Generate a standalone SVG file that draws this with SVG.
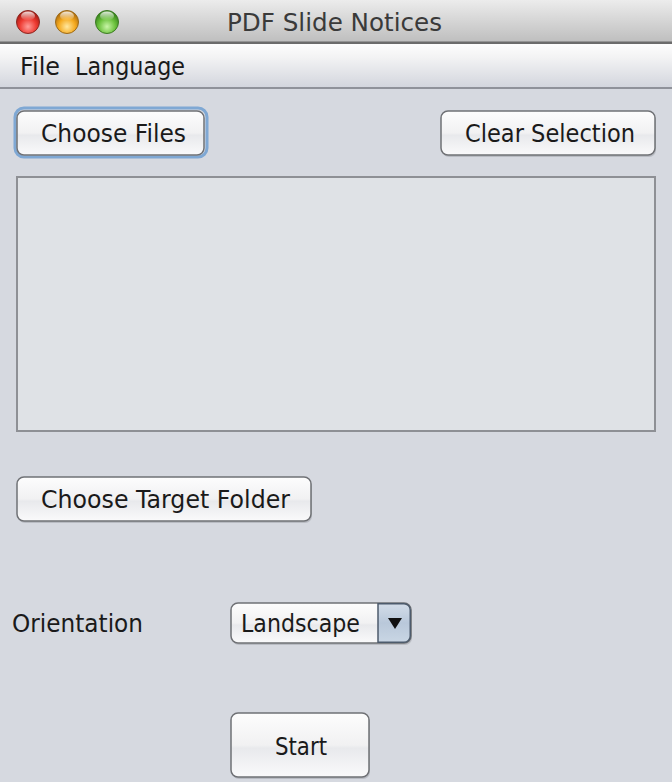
<svg xmlns="http://www.w3.org/2000/svg" width="672" height="782" viewBox="0 0 672 782">
<defs>
<linearGradient id="gTitle" x1="0" y1="0" x2="0" y2="1">
<stop offset="0" stop-color="#ececec"/><stop offset="1" stop-color="#bdbdbd"/>
</linearGradient>
<linearGradient id="gMenu" x1="0" y1="0" x2="0" y2="1">
<stop offset="0" stop-color="#fdfdfd"/><stop offset="0.3" stop-color="#f3f3f4"/><stop offset="1" stop-color="#d2d5dd"/>
</linearGradient>
<linearGradient id="gBtn" x1="0" y1="0" x2="0" y2="1">
<stop offset="0" stop-color="#fdfdfd"/><stop offset="0.5" stop-color="#f1f1f2"/><stop offset="0.55" stop-color="#e8e9ec"/><stop offset="1" stop-color="#fafafb"/>
</linearGradient>
<linearGradient id="gArrow" x1="0" y1="0" x2="0" y2="1">
<stop offset="0" stop-color="#d3dde9"/><stop offset="0.5" stop-color="#b9c8da"/><stop offset="1" stop-color="#c9d6e4"/>
</linearGradient>
<radialGradient id="gRed" cx="0.5" cy="0.7" r="0.6">
<stop offset="0" stop-color="#ff9d9a"/><stop offset="0.6" stop-color="#ee3b32"/><stop offset="1" stop-color="#b01e16"/>
</radialGradient>
<radialGradient id="gOrange" cx="0.5" cy="0.7" r="0.6">
<stop offset="0" stop-color="#ffe8a0"/><stop offset="0.6" stop-color="#f5aa1f"/><stop offset="1" stop-color="#b8750f"/>
</radialGradient>
<radialGradient id="gGreen" cx="0.5" cy="0.7" r="0.6">
<stop offset="0" stop-color="#c9f5a8"/><stop offset="0.6" stop-color="#6cc23d"/><stop offset="1" stop-color="#3c8a1f"/>
</radialGradient>
<linearGradient id="gShine" x1="0" y1="0" x2="0" y2="1">
<stop offset="0" stop-color="#ffffff" stop-opacity="0.85"/><stop offset="1" stop-color="#ffffff" stop-opacity="0"/>
</linearGradient>
</defs>
<style>
text{font-family:"DejaVu Sans","Liberation Sans",sans-serif;fill:#1a1a1a;}
.lbl{font-size:25px;}
.btn{fill:url(#gBtn);stroke:#6f7175;stroke-width:1.5;}
.shadow{fill:#b9bcc3;}
.title{font-size:25px;fill:#3a3a3a;}
</style>
<rect x="0" y="0" width="672" height="782" fill="#d6d9e0"/>
<g id="titlebar">
<rect x="0" y="0" width="672" height="43" fill="url(#gTitle)"/>
<rect x="0" y="41.5" width="672" height="2.5" fill="#6b6b6b"/>
<circle cx="28" cy="22" r="11.5" fill="url(#gRed)" stroke="#8a2a24" stroke-width="1"/>
<ellipse cx="28" cy="16" rx="7" ry="4.5" fill="url(#gShine)"/>
<circle cx="67" cy="22" r="11.5" fill="url(#gOrange)" stroke="#9a6a1c" stroke-width="1"/>
<ellipse cx="67" cy="16" rx="7" ry="4.5" fill="url(#gShine)"/>
<circle cx="107" cy="22" r="11.5" fill="url(#gGreen)" stroke="#3e7a26" stroke-width="1"/>
<ellipse cx="107" cy="16" rx="7" ry="4.5" fill="url(#gShine)"/>
<text class="title" x="227" y="31" textLength="215" lengthAdjust="spacingAndGlyphs">PDF Slide Notices</text>
</g>
<g id="menubar">
<rect x="0" y="44" width="672" height="44" fill="url(#gMenu)"/>
<rect x="0" y="87" width="672" height="2" fill="#8f929a"/>
<text class="lbl" x="20" y="75" textLength="40" lengthAdjust="spacingAndGlyphs">File</text>
<text class="lbl" x="75" y="75" textLength="110" lengthAdjust="spacingAndGlyphs">Language</text>
</g>
<g id="choose-files">
<rect x="15" y="108" width="192" height="49" rx="9" fill="none" stroke="#7fa8d4" stroke-width="3"/>
<rect x="17" y="111" width="187" height="44" rx="7" class="btn" stroke="#55575b"/>
<text class="lbl" x="41" y="142" textLength="145" lengthAdjust="spacingAndGlyphs">Choose Files</text>
</g>
<g id="clear-selection">
<rect x="442" y="113" width="214" height="44" rx="7" class="shadow"/>
<rect x="441" y="111" width="214" height="44" rx="7" class="btn"/>
<text class="lbl" x="465" y="142" textLength="170" lengthAdjust="spacingAndGlyphs">Clear Selection</text>
</g>
<g id="file-list">
<rect x="17" y="177" width="638" height="254" fill="#dfe2e6" stroke="#8e9095" stroke-width="2"/>
</g>
<g id="choose-target-folder">
<rect x="18" y="479" width="294" height="44" rx="7" class="shadow"/>
<rect x="17" y="477" width="294" height="44" rx="7" class="btn"/>
<text class="lbl" x="41" y="508" textLength="249" lengthAdjust="spacingAndGlyphs">Choose Target Folder</text>
</g>
<g id="orientation-label">
<text class="lbl" x="12" y="632" textLength="131" lengthAdjust="spacingAndGlyphs">Orientation</text>
</g>
<g id="orientation-combo">
<rect x="232" y="605" width="180" height="40" rx="7" class="shadow"/>
<rect x="231" y="603" width="180" height="40" rx="7" class="btn"/>
<path d="M378,603.75 H404 A6.25,6.25 0 0 1 410.25,610 V636 A6.25,6.25 0 0 1 404,642.25 H378 Z" fill="url(#gArrow)" stroke="#4d5b6c" stroke-width="1.5"/>
<polygon points="388,618 402,618 395,629" fill="#111"/>
<text class="lbl" x="241" y="632" textLength="119" lengthAdjust="spacingAndGlyphs">Landscape</text>
</g>
<g id="start">
<rect x="232" y="715" width="138" height="64" rx="7" class="shadow"/>
<rect x="231" y="713" width="138" height="64" rx="7" class="btn"/>
<text class="lbl" x="275" y="755" textLength="52" lengthAdjust="spacingAndGlyphs">Start</text>
</g>
<g id="connectors"/>
</svg>
